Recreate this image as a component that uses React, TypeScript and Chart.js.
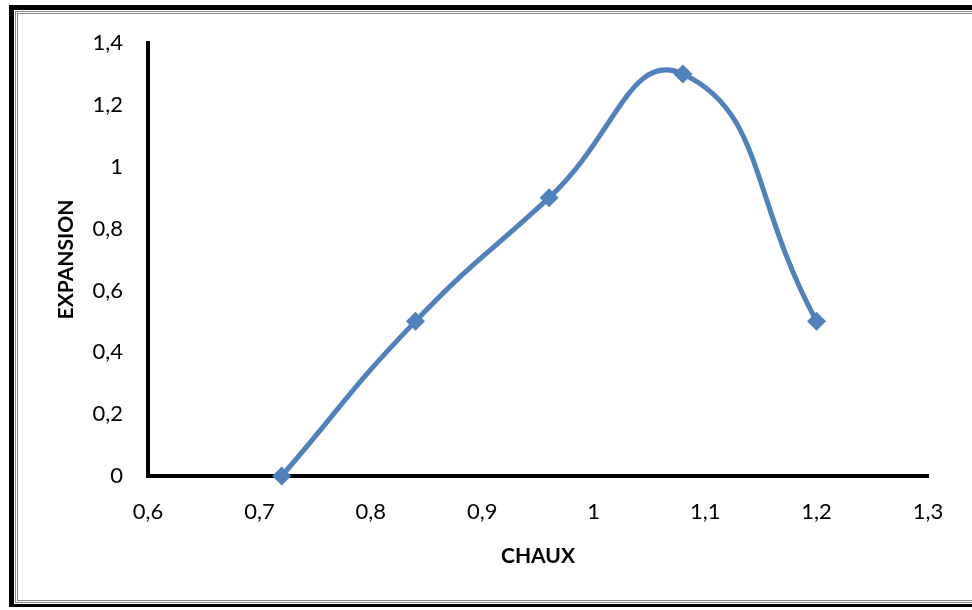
import React, { useEffect, useRef } from "react";
import { Chart, registerables } from "chart.js";

Chart.register(...registerables);

const chauxValues = [0.72, 0.84, 0.96, 1.08, 1.2];
const expansionValues = [0, 0.5, 0.9, 1.3, 0.5];
const xTitle = "CHAUX";
const yTitle = "EXPANSION";

const FONT = "Lato, 'Open Sans', sans-serif";
const fmt = (v: number) => String(Math.round(v * 10) / 10).replace(".", ",");

export default function App() {
  const ref = useRef<HTMLCanvasElement | null>(null);

  useEffect(() => {
    if (!ref.current) return;
    const chart = new Chart(ref.current, {
      type: "line",
      data: {
        datasets: [
          {
            data: chauxValues.map((x, i) => ({ x, y: expansionValues[i] })),
            borderColor: "#4F81BD",
            backgroundColor: "#4F81BD",
            borderWidth: 5,
            tension: 0.5,
            pointStyle: "rectRot",
            pointRadius: 9.5,
            pointBorderWidth: 0,
            fill: false,
            clip: false,
          },
        ],
      },
      options: {
        responsive: false,
        animation: false,
        plugins: { legend: { display: false }, tooltip: { enabled: false } },
        layout: { padding: { left: 45, top: 43, right: 44, bottom: 18 } },
        scales: {
          x: {
            type: "linear",
            min: 0.6,
            max: 1.3,
            afterFit: (s: any) => {
              s.height = 116;
            },
            ticks: {
              stepSize: 0.1,
              color: "#000",
              padding: 23,
              font: { family: FONT, size: 22 },
              callback: (v: any) => fmt(Number(v)),
            },
            grid: { display: false, drawTicks: false },
            border: { display: true, color: "#000", width: 4 },
            title: {
              display: true,
              text: xTitle,
              color: "#000",
              font: { family: FONT, size: 21, weight: "bold" },
              padding: { top: 23, bottom: 23 },
            },
          },
          y: {
            type: "linear",
            min: 0,
            max: 1.4,
            afterFit: (s: any) => {
              s.width = 103;
            },
            ticks: {
              stepSize: 0.2,
              color: "#000",
              padding: 25,
              font: { family: FONT, size: 22 },
              callback: (v: any) => fmt(Number(v)),
            },
            grid: { display: false, drawTicks: false },
            border: { display: true, color: "#000", width: 4 },
            title: {
              display: true,
              text: yTitle,
              color: "#000",
              font: { family: FONT, size: 21, weight: "bold" },
              padding: { top: 9, bottom: 9 },
            },
          },
        },
      },
    });
    return () => chart.destroy();
  }, []);

  return (
    <div
      style={{
        position: "fixed",
        left: 0,
        top: 0,
        width: 972,
        height: 610,
        background: "#fff",
        overflow: "hidden",
      }}
    >
      <div
        style={{
          position: "absolute",
          left: 9,
          top: 5,
          width: 1000,
          height: 602,
          borderLeft: "5px solid #000",
          borderTop: "5px solid #000",
          borderBottom: "3px solid #000",
          boxSizing: "border-box",
        }}
      >
        <div
          style={{
            position: "absolute",
            left: 1,
            top: 1,
            right: 0,
            bottom: 1,
            border: "3px double #888",
            boxSizing: "border-box",
          }}
        />
      </div>
      <canvas
        ref={ref}
        width={972}
        height={610}
        style={{ position: "absolute", left: 0, top: 0 }}
      />
    </div>
  );
}
